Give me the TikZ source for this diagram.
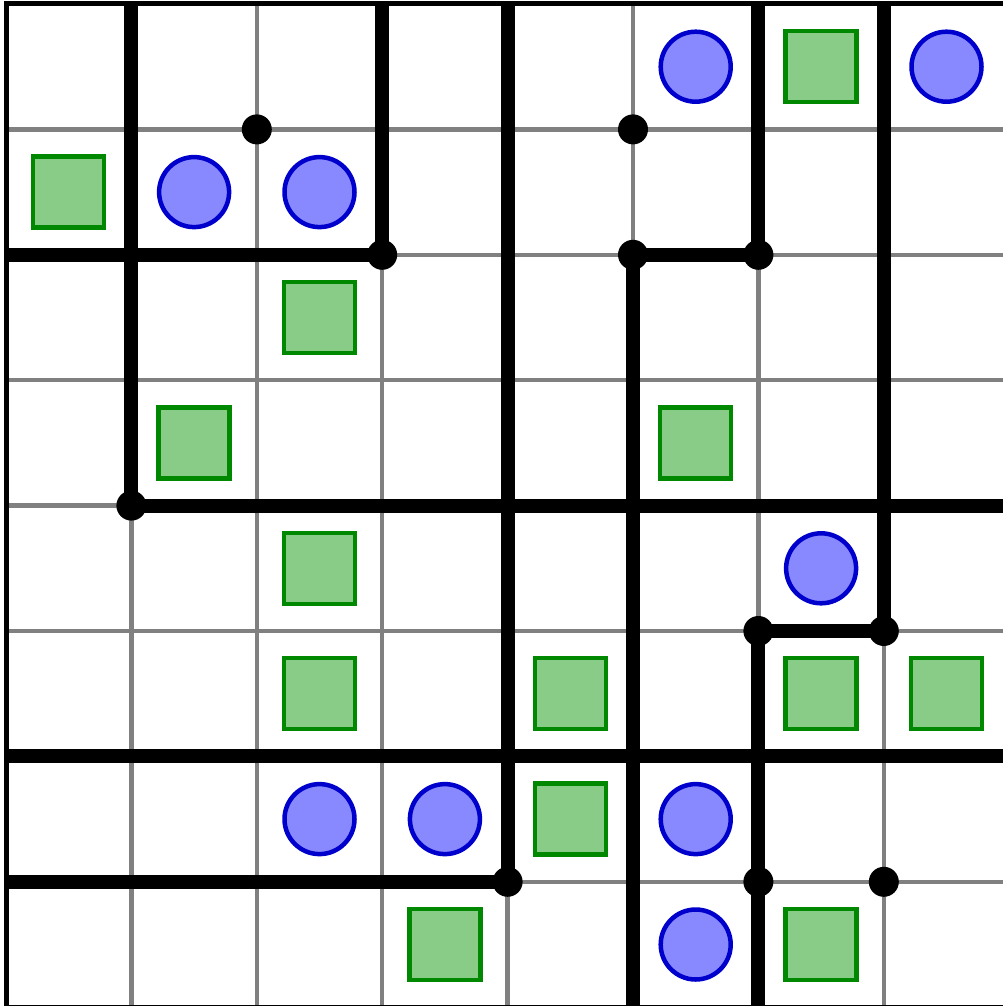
\documentclass[tikz,border=0pt]{standalone}
\definecolor{gridgray}{HTML}{808080}
\definecolor{sqfill}{HTML}{88CC88}
\definecolor{sqdraw}{HTML}{008800}
\definecolor{cifill}{HTML}{8888FF}
\definecolor{cidraw}{HTML}{0000CC}
\tikzset{
  gridline/.style={draw=gridgray,line width=4.5pt},
  wall/.style={draw=black,line width=14pt},
  border/.style={draw=black,line width=5pt},
  jdot/.style={circle,fill=black,inner sep=0pt,minimum size=30pt},
  sq/.style={rectangle,draw=sqdraw,fill=sqfill,line width=4.5pt,inner sep=0pt,minimum size=71pt},
  ci/.style={circle,draw=cidraw,fill=cifill,line width=4.5pt,inner sep=0pt,minimum size=70pt}
}
\begin{document}
\begin{tikzpicture}[x=1pt,y=-1pt]
\useasboundingbox (0,0) rectangle (1003,1006);
\clip (0,0) rectangle (1003,1006);
\fill[white] (0,0) rectangle (1003,1006);
\foreach \c in {0,...,8} \foreach \r in {0,...,8}
  \coordinate (p\c-\r) at ({6+125.4*\c},{4+125.4*\r});
% grid
\foreach \i in {1,...,7} {
  \draw[gridline] (p\i-0) -- (p\i-8);
  \draw[gridline] (p0-\i) -- (p8-\i);
}
% walls
\draw[wall] (p1-0) -- (p1-4);
\draw[wall] (p3-0) -- (p3-2);
\draw[wall] (p0-2) -- (p3-2);
\draw[wall] (p4-0) -- (p4-7);
\draw[wall] (p0-7) -- (p4-7);
\draw[wall] (p6-0) -- (p6-2) -- (p5-2) -- (p5-8);
\draw[wall] (p7-0) -- (p7-5) -- (p6-5) -- (p6-8);
\draw[wall] (p1-4) -- (p8-4);
\draw[wall] (p0-6) -- (p8-6);
% border
\draw[border] (p0-0) rectangle (p8-8);
% junction dots
\foreach \c/\r in {1/4,3/2,4/7,5/2,6/2,6/5,7/5,2/1,5/1,6/7,7/7}
  \node[jdot] (d\c-\r) at (p\c-\r) {};
% squares
\foreach \c/\r in {6/0,0/1,2/2,1/3,5/3,2/4,2/5,4/5,6/5,7/5,4/6,3/7,6/7}
  \node[sq] (s\c-\r) at ({6+125.4*(\c+0.5)},{4+125.4*(\r+0.5)}) {};
% circles
\foreach \c/\r in {5/0,7/0,1/1,2/1,6/4,2/6,3/6,5/6,5/7}
  \node[ci] (c\c-\r) at ({6+125.4*(\c+0.5)},{4+125.4*(\r+0.5)}) {};
\end{tikzpicture}
\end{document}
